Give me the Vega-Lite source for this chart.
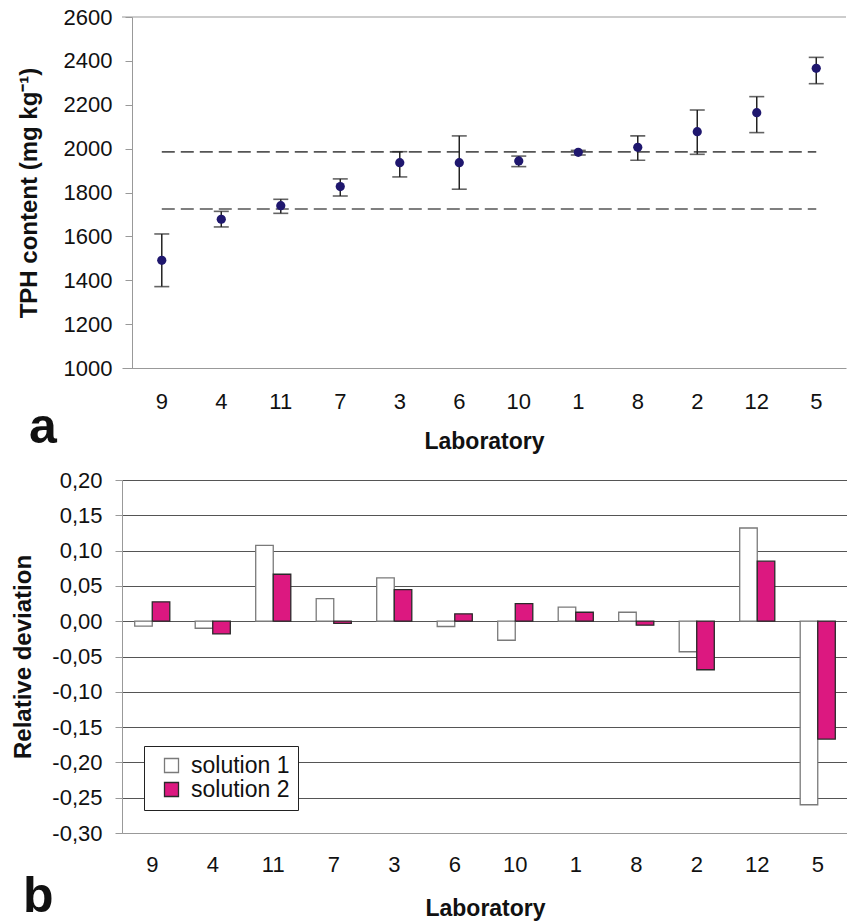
{
  "$schema": "https://vega.github.io/schema/vega-lite/v6.json",
  "padding": {"left": 11, "top": 6, "right": 0, "bottom": 0},
  "config": {"font": "Liberation Sans", "view": {"stroke": null}, "concat": {"spacing": 16}},
  "resolve": {"legend": {"fill": "independent", "stroke": "independent"}},
  "datasets": {
    "tph": [
      {"Laboratory": "9", "value": 1491, "lo": 1371, "hi": 1611},
      {"Laboratory": "4", "value": 1678, "lo": 1643, "hi": 1714},
      {"Laboratory": "11", "value": 1740, "lo": 1705, "hi": 1769},
      {"Laboratory": "7", "value": 1827, "lo": 1784, "hi": 1862},
      {"Laboratory": "3", "value": 1936, "lo": 1871, "hi": 1986},
      {"Laboratory": "6", "value": 1936, "lo": 1815, "hi": 2058},
      {"Laboratory": "10", "value": 1944, "lo": 1918, "hi": 1966},
      {"Laboratory": "1", "value": 1983, "lo": 1971, "hi": 1992},
      {"Laboratory": "8", "value": 2006, "lo": 1947, "hi": 2058},
      {"Laboratory": "2", "value": 2077, "lo": 1974, "hi": 2176},
      {"Laboratory": "12", "value": 2164, "lo": 2073, "hi": 2237},
      {"Laboratory": "5", "value": 2366, "lo": 2296, "hi": 2416}
    ],
    "ref": [
      {"Laboratory": "9", "v": 1985, "g": "upper"},
      {"Laboratory": "5", "v": 1985, "g": "upper"},
      {"Laboratory": "9", "v": 1725, "g": "lower"},
      {"Laboratory": "5", "v": 1725, "g": "lower"}
    ],
    "top": [{"t": 2600}],
    "dev": [
      {"Laboratory": "9", "solution": "solution 1", "value": -0.007},
      {"Laboratory": "9", "solution": "solution 2", "value": 0.0275},
      {"Laboratory": "4", "solution": "solution 1", "value": -0.010},
      {"Laboratory": "4", "solution": "solution 2", "value": -0.018},
      {"Laboratory": "11", "solution": "solution 1", "value": 0.1075},
      {"Laboratory": "11", "solution": "solution 2", "value": 0.0665},
      {"Laboratory": "7", "solution": "solution 1", "value": 0.032},
      {"Laboratory": "7", "solution": "solution 2", "value": -0.003},
      {"Laboratory": "3", "solution": "solution 1", "value": 0.0614},
      {"Laboratory": "3", "solution": "solution 2", "value": 0.0448},
      {"Laboratory": "6", "solution": "solution 1", "value": -0.0075},
      {"Laboratory": "6", "solution": "solution 2", "value": 0.0105},
      {"Laboratory": "10", "solution": "solution 1", "value": -0.027},
      {"Laboratory": "10", "solution": "solution 2", "value": 0.025},
      {"Laboratory": "1", "solution": "solution 1", "value": 0.0198},
      {"Laboratory": "1", "solution": "solution 2", "value": 0.0127},
      {"Laboratory": "8", "solution": "solution 1", "value": 0.0127},
      {"Laboratory": "8", "solution": "solution 2", "value": -0.0057},
      {"Laboratory": "2", "solution": "solution 1", "value": -0.0433},
      {"Laboratory": "2", "solution": "solution 2", "value": -0.0688},
      {"Laboratory": "12", "solution": "solution 1", "value": 0.132},
      {"Laboratory": "12", "solution": "solution 2", "value": 0.085},
      {"Laboratory": "5", "solution": "solution 1", "value": -0.26},
      {"Laboratory": "5", "solution": "solution 2", "value": -0.167}
    ]
  },
  "vconcat": [
    {
      "width": 724,
      "height": 351,
      "title": {"text": "a", "orient": "bottom", "anchor": "start", "frame": "group", "fontSize": 50, "fontWeight": "bold", "font": "Liberation Sans", "dx": -93, "dy": -50, "offset": 0, "color": "#111"},
      "layer": [
        {
          "data": {"name": "ref"},
          "mark": {"type": "line", "strokeDash": [13, 6], "color": "#555", "strokeWidth": 1.6},
          "encoding": {
            "x": {"field": "Laboratory", "type": "nominal", "scale": {"domain": ["9", "4", "11", "7", "3", "6", "10", "1", "8", "2", "12", "5"], "paddingInner": 0, "paddingOuter": 0.0843, "align": 1},
              "axis": {"labelAngle": 0, "ticks": false, "domainColor": "#999", "labelFontSize": 22, "labelPadding": 23, "labelColor": "#111", "title": "Laboratory", "titleFontSize": 23, "titleFontWeight": "bold", "titlePadding": 18, "titleColor": "#111"}},
            "y": {"field": "v", "type": "quantitative", "title": "TPH content (mg kg⁻¹)", "scale": {"domain": [1000, 2600], "nice": false, "zero": false},
              "axis": {"offset": -10, "format": "d", "values": [1000, 1200, 1400, 1600, 1800, 2000, 2200, 2400, 2600], "grid": false, "domainColor": "#999", "tickColor": "#999", "tickSize": 7, "labelFontSize": 22, "labelPadding": 13, "labelColor": "#111", "titleFontSize": 24, "titleFontWeight": "bold", "titlePadding": 22, "titleColor": "#111"}},
            "detail": {"field": "g"}
          }
        },
        {
          "data": {"name": "tph"},
          "mark": {"type": "rule", "color": "#222", "strokeWidth": 1.5},
          "encoding": {
            "x": {"field": "Laboratory", "type": "nominal"},
            "y": {"field": "lo", "type": "quantitative", "title": "TPH content (mg kg⁻¹)"},
            "y2": {"field": "hi"}
          }
        },
        {
          "data": {"name": "tph"},
          "mark": {"type": "tick", "color": "#222", "size": 15, "thickness": 1.6, "orient": "horizontal"},
          "encoding": {
            "x": {"field": "Laboratory", "type": "nominal"},
            "y": {"field": "lo", "type": "quantitative", "title": "TPH content (mg kg⁻¹)"}
          }
        },
        {
          "data": {"name": "tph"},
          "mark": {"type": "tick", "color": "#222", "size": 15, "thickness": 1.6, "orient": "horizontal"},
          "encoding": {
            "x": {"field": "Laboratory", "type": "nominal"},
            "y": {"field": "hi", "type": "quantitative", "title": "TPH content (mg kg⁻¹)"}
          }
        },
        {
          "data": {"name": "tph"},
          "mark": {"type": "point", "filled": true, "color": "#1f176e", "opacity": 1, "size": 85},
          "encoding": {
            "x": {"field": "Laboratory", "type": "nominal"},
            "y": {"field": "value", "type": "quantitative", "title": "TPH content (mg kg⁻¹)"}
          }
        },
        {
          "data": {"name": "top"},
          "mark": {"type": "rule", "color": "#999", "strokeWidth": 1},
          "encoding": {
            "y": {"field": "t", "type": "quantitative", "title": "TPH content (mg kg⁻¹)"}
          }
        }
      ]
    },
    {
      "width": 726,
      "height": 353,
      "data": {"name": "dev"},
      "title": {"text": "b", "orient": "bottom", "anchor": "start", "frame": "group", "fontSize": 50, "fontWeight": "bold", "font": "Liberation Sans", "dx": -99, "dy": -48, "offset": 0, "color": "#111"},
      "mark": {"type": "bar", "strokeWidth": 1.3},
      "encoding": {
        "x": {"field": "Laboratory", "type": "nominal", "scale": {"domain": ["9", "4", "11", "7", "3", "6", "10", "1", "8", "2", "12", "5"], "paddingInner": 0.42, "paddingOuter": 0.21},
          "axis": {"labelAngle": 0, "ticks": false, "domainColor": "#999", "labelFontSize": 22, "labelPadding": 21, "labelColor": "#111", "title": "Laboratory", "titleFontSize": 23, "titleFontWeight": "bold", "titlePadding": 22, "titleColor": "#111"}},
        "xOffset": {"field": "solution", "type": "nominal", "scale": {"domain": ["solution 1", "solution 2"], "paddingInner": 0, "paddingOuter": 0}},
        "y": {"field": "value", "type": "quantitative", "scale": {"domain": [-0.3, 0.2], "nice": false},
          "axis": {"values": [-0.3, -0.25, -0.2, -0.15, -0.1, -0.05, 0, 0.05, 0.1, 0.15, 0.2], "labelExpr": "replace(replace(format(datum.value, '.2f'), '.', ','), '−', '-')", "grid": true, "gridColor": {"condition": {"test": "datum.value < -0.29", "value": "#aaa"}, "value": "#555"}, "gridWidth": 1, "domainColor": "#999", "tickColor": "#999", "tickSize": 7, "labelFontSize": 22, "labelPadding": 13, "labelColor": "#111", "title": "Relative deviation", "titleFontSize": 24, "titleFontWeight": "bold", "titlePadding": 16, "titleColor": "#111"}},
        "fill": {"field": "solution", "type": "nominal", "scale": {"domain": ["solution 1", "solution 2"], "range": ["#ffffff", "#dc1880"]},
          "legend": {"orient": "none", "legendX": 22, "legendY": 266, "title": null, "strokeColor": "#222", "fillColor": "#ffffff", "padding": 8, "symbolType": "square", "symbolSize": 196, "symbolStrokeWidth": 1.3, "labelFontSize": 23, "labelColor": "#111", "symbolOffset": 8, "labelOffset": 8, "rowPadding": 0}},
        "stroke": {"field": "solution", "type": "nominal", "scale": {"domain": ["solution 1", "solution 2"], "range": ["#7a7a7a", "#2a2a2a"]},
          "legend": {"orient": "none", "legendX": 22, "legendY": 266, "title": null, "strokeColor": "#222", "fillColor": "#ffffff", "padding": 8, "symbolType": "square", "symbolSize": 196, "symbolStrokeWidth": 1.3, "labelFontSize": 23, "labelColor": "#111", "symbolOffset": 8, "labelOffset": 8, "rowPadding": 0}}
      }
    }
  ]
}
